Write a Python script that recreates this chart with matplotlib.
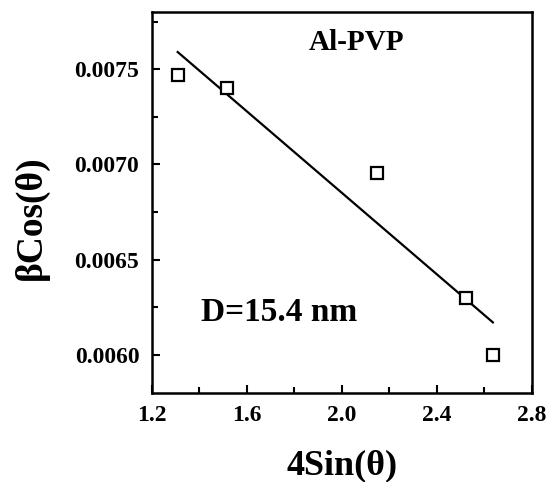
import matplotlib
matplotlib.use("Agg")
import matplotlib.pyplot as plt
from matplotlib.ticker import MultipleLocator

# data
x_vals = [1.309, 1.516, 2.147, 2.522, 2.636]
y_vals = [0.00747, 0.00740, 0.006955, 0.00630, 0.00600]
fit_x = [1.309, 2.636]
fit_y = [0.00759, 0.00617]
x_ticks = [1.2, 1.6, 2.0, 2.4, 2.8]
x_ticklabels = ['1.2', '1.6', '2.0', '2.4', '2.8']
y_ticks = [0.0060, 0.0065, 0.0070, 0.0075]
y_ticklabels = ['0.0060', '0.0065', '0.0070', '0.0075']

plt.rcParams['font.family'] = 'Liberation Serif'
plt.rcParams['font.weight'] = 'bold'

fig = plt.figure(figsize=(5.5, 4.82), dpi=100)
ax = fig.add_axes([0.276, 0.185, 0.691, 0.79])

ax.plot(fit_x, fit_y, color='black', lw=1.6)
ax.plot(x_vals, y_vals, 's', ms=9, mfc='white', mec='black', mew=1.6)

ax.set_xlim(1.2, 2.8)
ax.set_ylim(0.0058, 0.0078)
ax.xaxis.set_minor_locator(MultipleLocator(0.2))
ax.yaxis.set_minor_locator(MultipleLocator(0.00025))
ax.set_xticks(x_ticks)
ax.set_xticklabels(x_ticklabels)
ax.set_yticks(y_ticks)
ax.set_yticklabels(y_ticklabels)

ax.tick_params(which='both', direction='in', width=1.5, labelsize=17)
ax.tick_params(which='major', length=6)
ax.tick_params(which='minor', length=4)
ax.tick_params(axis='y', pad=9)
ax.tick_params(axis='x', pad=9)
for s in ax.spines.values():
    s.set_linewidth(1.8)

ax.set_xlabel('4Sin(\u03b8)', fontsize=26, fontweight='bold')
ax.xaxis.set_label_coords(0.5, -0.148)
ax.set_ylabel('\u03b2Cos(\u03b8)', fontsize=27, fontweight='bold')
ax.yaxis.set_label_coords(-0.27, 0.46)

ax.text(0.54, 0.92, 'Al-PVP', transform=ax.transAxes, ha='center', va='center',
        fontsize=21, fontweight='bold')
ax.text(0.13, 0.21, 'D=15.4 nm', transform=ax.transAxes, ha='left', va='center',
        fontsize=24, fontweight='bold')

fig.savefig('out.png', dpi=100)
